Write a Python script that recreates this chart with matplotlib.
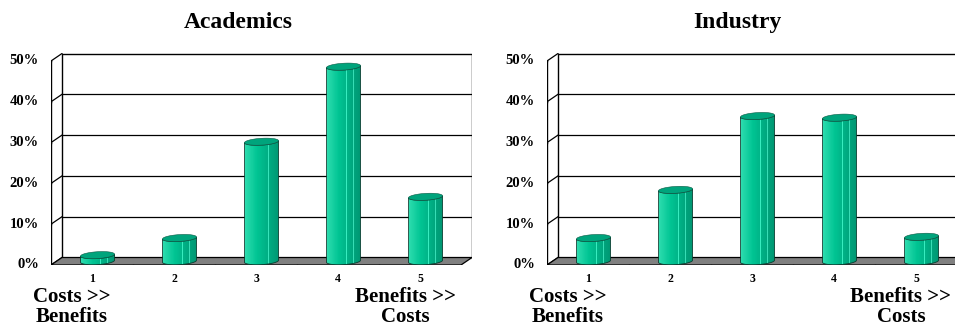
"""
Survey result: perceived cost/benefit rating, academics vs. industry,
drawn as Excel-style 3D cylinder columns.
"""

import matplotlib

matplotlib.use("Agg")
import matplotlib.pyplot as plt  # noqa: E402
import numpy as np  # noqa: E402
from matplotlib.patches import Polygon  # noqa: E402

categories = ["1", "2", "3", "4", "5"]
academics = [1.5, 5.7, 29.3, 47.7, 15.8]
industry = [5.7, 17.5, 35.6, 35.2, 6.0]
y_ticks = [0, 10, 20, 30, 40, 50]
y_labels = ["0%", "10%", "20%", "30%", "40%", "50%"]

FONT = "Liberation Serif"
DPI = 100
W_PX, H_PX = 955, 334

# pixel scale of the data space
PX_CAT = 82.0      # pixels per category
PX_PCT = 4.08      # pixels per percent
DX = 11.0 / PX_CAT   # depth shift of the back wall (x, category units)
DY = 7.5 / PX_PCT    # depth shift of the back wall (y, percent units)
BAR_W = 34.0 / PX_CAT
ELL_B = 3.4 / PX_PCT
TILT = 1.0 / PX_PCT

BODY_LIGHT = np.array([0x2c, 0xdc, 0xae]) / 255
BODY_MID = np.array([0x00, 0xc4, 0x93]) / 255
BODY_DARK = np.array([0x00, 0x96, 0x72]) / 255
TOP_COLOR = "#00a47c"
FLOOR = "#808080"


def body_gradient(n=60):
    t = np.linspace(0, 1, n)
    cols = np.zeros((1, n, 3))
    for i, v in enumerate(t):
        if v < 0.35:
            c = BODY_LIGHT + (BODY_MID - BODY_LIGHT) * v / 0.35
        else:
            c = BODY_MID + (BODY_DARK - BODY_MID) * (v - 0.35) / 0.65
        cols[0, i] = c
    # thin light facet lines on the shaded side
    for pos in (0.58, 0.68, 0.78, 0.87):
        k = int(pos * (n - 1))
        cols[0, k] = np.clip(cols[0, k] + 0.22, 0, 1)
    return cols


GRAD = body_gradient()


def ellipse_pts(xc, yc, t):
    a = BAR_W / 2
    x = xc + a * np.cos(t)
    y = yc + ELL_B * np.sin(t) + TILT * np.cos(t)
    return x, y


def draw_cylinder(ax, cat_x, value, z):
    xc = cat_x + DX / 2
    y0 = DY / 2
    y1 = y0 + value
    a = BAR_W / 2

    t_front = np.linspace(np.pi, 2 * np.pi, 40)
    bx, by = ellipse_pts(xc, y0, t_front)
    tx, ty = ellipse_pts(xc, y1, t_front)
    pts = np.vstack([
        np.column_stack([bx, by]),
        np.column_stack([tx[::-1], ty[::-1]]),
    ])
    body = Polygon(pts, closed=True, facecolor="none", edgecolor="none", zorder=z)
    ax.add_patch(body)
    im = ax.imshow(GRAD, extent=[xc - a, xc + a, y0 - ELL_B - TILT, y1 + ELL_B + TILT],
                   aspect="auto", interpolation="nearest", zorder=z)
    im.set_clip_path(body)
    outline = Polygon(pts, closed=True, facecolor="none", edgecolor="#0a3d30",
                      linewidth=0.6, zorder=z + 0.1)
    ax.add_patch(outline)

    t_all = np.linspace(0, 2 * np.pi, 80)
    ex, ey = ellipse_pts(xc, y1, t_all)
    ax.add_patch(Polygon(np.column_stack([ex, ey]), closed=True,
                         facecolor=TOP_COLOR, edgecolor="#0a5a45",
                         linewidth=0.4, zorder=z + 0.2))


def draw_panel(fig, left_px, values):
    top_px, bottom_px = 53, 265
    width_px = 5 * PX_CAT + 11
    ax = fig.add_axes([left_px / W_PX, (H_PX - bottom_px) / H_PX,
                       width_px / W_PX, (bottom_px - top_px) / H_PX])
    ax.set_axis_off()

    n = len(categories)
    x0, x1 = 0.5, n + 0.5
    ytop = y_ticks[-1]

    # back wall gridlines and frame
    for v in y_ticks[1:-1]:
        ax.plot([x0 + DX, x1 + DX], [v + DY, v + DY], color="black", lw=0.9, zorder=1)
    ax.plot([x0 + DX, x0 + DX, x1 + DX, x1 + DX], [DY, ytop + DY, ytop + DY, DY],
            color="black", lw=1.0, zorder=1, solid_joinstyle="miter")
    # side wall gridlines
    for v in y_ticks:
        ax.plot([x0, x0 + DX], [v, v + DY], color="black", lw=0.9, zorder=1)

    # floor
    floor = Polygon([[x0, 0], [x1, 0], [x1 + DX, DY], [x0 + DX, DY]], closed=True,
                    facecolor=FLOOR, edgecolor="black", linewidth=0.9, zorder=2)
    ax.add_patch(floor)

    # front value axis with ticks
    ax.plot([x0, x0], [0, ytop], color="black", lw=1.0, zorder=6)
    tick_dx = 3.5 / PX_CAT
    for v, lab in zip(y_ticks, y_labels):
        ax.plot([x0 - tick_dx, x0], [v, v], color="black", lw=1.0, zorder=6)
        ax.text(x0 - 12 / PX_CAT, v, lab, ha="right", va="center",
                fontsize=10.5, fontweight="bold", family=FONT)

    # category axis ticks and labels
    for k in range(n + 1):
        ax.plot([x0 + k, x0 + k], [0, -4 / PX_PCT], color="black", lw=1.0, zorder=6)
    for k, lab in enumerate(categories):
        ax.text(k + 1, -14 / PX_PCT, lab, ha="center", va="center",
                fontsize=8.5, fontweight="bold", family=FONT)

    for k, v in enumerate(values):
        draw_cylinder(ax, k + 1, v, 10 + k)

    ax.text(1 - 20 / PX_CAT, -42.5 / PX_PCT, "Costs >>\nBenefits", ha="center",
            va="center", fontsize=15, fontweight="bold", family=FONT,
            linespacing=1.0)
    ax.text(n - 15 / PX_CAT, -42.5 / PX_PCT, "Benefits >>\nCosts", ha="center",
            va="center", fontsize=15, fontweight="bold", family=FONT,
            linespacing=1.0)

    ax.set_xlim(x0, x0 + width_px / PX_CAT)
    ax.set_ylim(0, (bottom_px - top_px) / PX_PCT)
    return ax


fig = plt.figure(figsize=(W_PX / DPI, H_PX / DPI), dpi=DPI)
fig.patch.set_facecolor("white")

draw_panel(fig, 51, academics)
draw_panel(fig, 547, industry)

fig.text(238 / W_PX, 1 - 28 / H_PX, "Academics", ha="center", va="baseline",
         fontsize=17, fontweight="bold", family=FONT)
fig.text(737 / W_PX, 1 - 28 / H_PX, "Industry", ha="center", va="baseline",
         fontsize=17, fontweight="bold", family=FONT)

fig.savefig("out.png", dpi=DPI, facecolor="white")
plt.close(fig)
